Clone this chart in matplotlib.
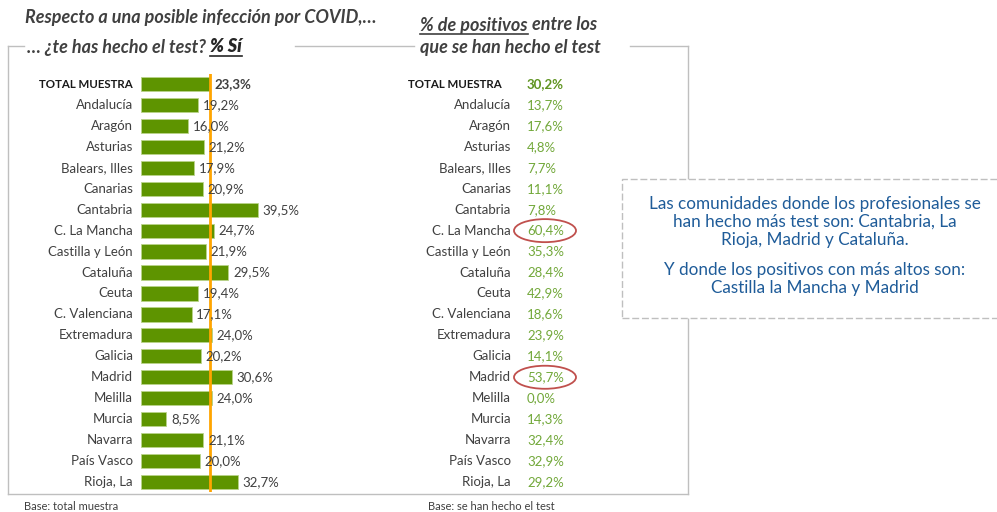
import matplotlib.pyplot as plt
from matplotlib.lines import Line2D
from matplotlib.patches import Rectangle, Ellipse

# data
regions = ["TOTAL MUESTRA", "Andalucía", "Aragón", "Asturias", "Balears, Illes",
           "Canarias", "Cantabria", "C. La Mancha", "Castilla y León", "Cataluña",
           "Ceuta", "C. Valenciana", "Extremadura", "Galicia", "Madrid", "Melilla",
           "Murcia", "Navarra", "País Vasco", "Rioja, La"]
test_si = [23.3, 19.2, 16.0, 21.2, 17.9, 20.9, 39.5, 24.7, 21.9, 29.5,
           19.4, 17.1, 24.0, 20.2, 30.6, 24.0, 8.5, 21.1, 20.0, 32.7]
positivos = [30.2, 13.7, 17.6, 4.8, 7.7, 11.1, 7.8, 60.4, 35.3, 28.4,
             42.9, 18.6, 23.9, 14.1, 53.7, 0.0, 14.3, 32.4, 32.9, 29.2]
circled = ["C. La Mancha", "Madrid"]

W, H = 997, 512
plt.rcParams['font.family'] = ['Lato', 'DejaVu Sans']
fig = plt.figure(figsize=(W / 100, H / 100), dpi=100)


def px(x0, y0, x1, y1):
    # pixel box (top-left origin) -> figure fraction rect
    return [x0 / W, 1 - y1 / H, (x1 - x0) / W, (y1 - y0) / H]


def fx(x):
    return x / W


def fy(y):
    return 1 - y / H


n = len(regions)
row = (482 - 84) / (n - 1)
top = 84 - row / 2
bot = 482 + row / 2
fs = 9.5

# outer frame
frame = dict(color="#bfbfbf", lw=1, transform=fig.transFigure)
for xs, ys in [([8, 8], [46, 494]), ([8, 688], [494, 494]), ([688, 688], [46, 494]),
               ([8, 24], [46, 46]), ([295, 414], [46, 46]), ([630, 688], [46, 46])]:
    fig.add_artist(Line2D([fx(x) for x in xs], [fy(y) for y in ys], **frame))

# left panel: bars
ax = fig.add_axes(px(141, top, 141 + 2.96 * 60, bot))
ypos = list(range(n))
ax.barh(ypos, test_si, height=0.68, color="#5e9400", edgecolor="#b9d38a", lw=0.6)
ax.axvline(test_si[0], color="#ffa500", lw=2, zorder=3)
ax.set_xlim(0, 60)
ax.set_ylim(n - 0.5, -0.5)
ax.axis("off")
for i, (name, v) in enumerate(zip(regions, test_si)):
    bold = "bold" if i == 0 else "normal"
    ax.text(v + 1.6, i, f"{v:.1f}%".replace(".", ","), va="center", ha="left",
            fontsize=fs, color="#404040", fontweight=bold, zorder=4)
    if i == 0:
        ax.text(-2.7, i, name, va="center", ha="right", fontsize=8.3,
                fontweight="bold", color="#1a1a1a")
    else:
        ax.text(-2.7, i, name, va="center", ha="right", fontsize=fs, color="#404040")

# right panel: text table
ax2 = fig.add_axes(px(400, top, 620, bot))
ax2.set_xlim(400, 620)
ax2.set_ylim(n - 0.5, -0.5)
ax2.axis("off")
for i, (name, v) in enumerate(zip(regions, positivos)):
    lab = f"{v:.1f}%".replace(".", ",")
    if i == 0:
        ax2.text(408, i, name, va="center", ha="left", fontsize=8.3,
                 fontweight="bold", color="#1a1a1a")
        ax2.text(527, i, lab, va="center", ha="left", fontsize=fs,
                 fontweight="bold", color="#5f9420")
    else:
        ax2.text(511, i, name, va="center", ha="right", fontsize=fs, color="#404040")
        ax2.text(527, i, lab, va="center", ha="left", fontsize=fs, color="#72a83a")
    if name in circled:
        ax2.add_patch(Ellipse((545, i), 62, 1.1, fill=False,
                              edgecolor="#c0504d", lw=1.3))

# titles
tcol = "#404040"
tfs = 13
fig.text(fx(25), fy(18), "Respecto a una posible infección por COVID,…",
         fontsize=tfs, style="italic", fontweight="bold", color=tcol, va="center")
t1 = fig.text(fx(27), fy(47), "… ¿te has hecho el test? ",
              fontsize=tfs, style="italic", fontweight="bold", color=tcol, va="center")
fig.canvas.draw()
bb = t1.get_window_extent()
t1b = fig.text(bb.x1 / W, fy(47), "% Sí", fontsize=tfs, style="italic",
               fontweight="heavy", color="#262626", va="center")
fig.canvas.draw()
bb1b = t1b.get_window_extent()
fig.add_artist(Line2D([bb.x1 / W, bb1b.x1 / W], [fy(56), fy(56)],
                      color="#262626", lw=1.2, transform=fig.transFigure))

t2 = fig.text(fx(420), fy(25), "% de positivos ", fontsize=tfs, style="italic",
              fontweight="bold", color=tcol, va="center")
fig.canvas.draw()
bb2 = t2.get_window_extent()
fig.add_artist(Line2D([fx(420), bb2.x1 / W - 4 / W], [fy(34), fy(34)],
                      color=tcol, lw=1.2, transform=fig.transFigure))
fig.text(bb2.x1 / W, fy(25), "entre los", fontsize=tfs, style="italic",
         fontweight="bold", color=tcol, va="center")
fig.text(fx(420), fy(47), "que se han hecho el test", fontsize=tfs, style="italic",
         fontweight="bold", color=tcol, va="center")

# footnotes
fig.text(fx(24), fy(506), "Base: total muestra", fontsize=8, color="#404040", va="center")
fig.text(fx(428), fy(506), "Base: se han hecho el test", fontsize=8,
         color="#404040", va="center")

# comment box
fig.add_artist(Rectangle((fx(622), fy(318)), (W - 622 + 20) / W, (318 - 179) / H,
                         transform=fig.transFigure, facecolor="white",
                         edgecolor="#bfbfbf", lw=1, ls=(0, (5, 2)), zorder=5))
bcol = "#1f5c99"
fig.text(fx(815), fy(222), "Las comunidades donde los profesionales se\n"
         "han hecho más test son: Cantabria, La\nRioja, Madrid y Cataluña.",
         ha="center", va="center", fontsize=12.3, color=bcol, linespacing=1.12, zorder=6)
fig.text(fx(815), fy(279), "Y donde los positivos con más altos son:\n"
         "Castilla la Mancha y Madrid",
         ha="center", va="center", fontsize=12.3, color=bcol, linespacing=1.12, zorder=6)

fig.savefig("out.png", dpi=100, facecolor="white")
